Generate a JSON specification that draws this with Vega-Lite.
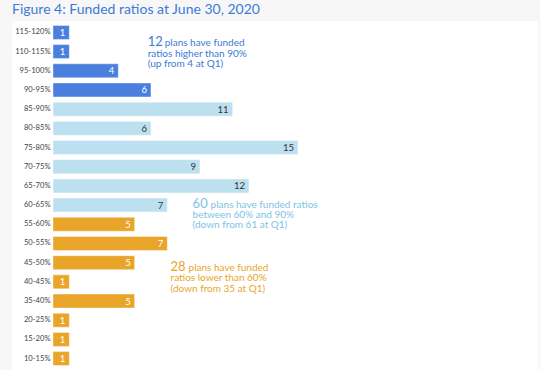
{
  "$schema": "https://vega.github.io/schema/vega-lite/v6.json",
  "autosize": {"type": "none"},
  "width": 526,
  "height": 349,
  "padding": {"left": 12, "top": 21, "right": 2, "bottom": 0},
  "background": "#f7f7f7",
  "view": {"fill": "white", "stroke": null},
  "title": {
    "text": "Figure 4: Funded ratios at June 30, 2020",
    "anchor": "start",
    "orient": "top",
    "offset": 4,
    "font": "Lato",
    "fontSize": 14,
    "fontWeight": "normal",
    "color": "#3d7ad6"
  },
  "config": {"font": "Lato"},
  "datasets": {
    "bars": [
      {"ratio": "115-120%", "plans": 1, "group": "above 90%"},
      {"ratio": "110-115%", "plans": 1, "group": "above 90%"},
      {"ratio": "95-100%", "plans": 4, "group": "above 90%"},
      {"ratio": "90-95%", "plans": 6, "group": "above 90%"},
      {"ratio": "85-90%", "plans": 11, "group": "60-90%"},
      {"ratio": "80-85%", "plans": 6, "group": "60-90%"},
      {"ratio": "75-80%", "plans": 15, "group": "60-90%"},
      {"ratio": "70-75%", "plans": 9, "group": "60-90%"},
      {"ratio": "65-70%", "plans": 12, "group": "60-90%"},
      {"ratio": "60-65%", "plans": 7, "group": "60-90%"},
      {"ratio": "55-60%", "plans": 5, "group": "below 60%"},
      {"ratio": "50-55%", "plans": 7, "group": "below 60%"},
      {"ratio": "45-50%", "plans": 5, "group": "below 60%"},
      {"ratio": "40-45%", "plans": 1, "group": "below 60%"},
      {"ratio": "35-40%", "plans": 5, "group": "below 60%"},
      {"ratio": "20-25%", "plans": 1, "group": "below 60%"},
      {"ratio": "15-20%", "plans": 1, "group": "below 60%"},
      {"ratio": "10-15%", "plans": 1, "group": "below 60%"}
    ],
    "notes": [
      {"id": "a", "ratio": "110-115%", "plans": 5.8, "num": "12", "first": "plans have funded", "rest": ["ratios higher than 90%", "(up from 4 at Q1)"]},
      {"id": "b", "ratio": "60-65%", "plans": 8.55, "num": "60", "first": "plans have funded ratios", "rest": ["between 60% and 90%", "(down from 61 at Q1)"]},
      {"id": "c", "ratio": "45-50%", "plans": 7.2, "num": "28", "first": "plans have funded", "rest": ["ratios lower than 60%", "(down from 35 at Q1)"]}
    ]
  },
  "encoding": {
    "y": {
      "field": "ratio",
      "type": "nominal",
      "sort": null,
      "scale": {
        "domain": ["115-120%", "110-115%", "95-100%", "90-95%", "85-90%", "80-85%", "75-80%", "70-75%", "65-70%", "60-65%", "55-60%", "50-55%", "45-50%", "40-45%", "35-40%", "20-25%", "15-20%", "10-15%"],
        "paddingInner": 0.27,
        "paddingOuter": 0.23
      },
      "axis": {
        "title": null,
        "ticks": false,
        "domain": false,
        "labelPadding": -38,
        "labelFontSize": 7.6,
        "labelColor": "#444444",
        "labelFont": "Lato"
      }
    },
    "x": {
      "field": "plans",
      "type": "quantitative",
      "scale": {"domain": [-2.51, 29.7], "nice": false, "zero": false},
      "axis": null
    }
  },
  "layer": [
    {
      "data": {"name": "bars"},
      "mark": {"type": "bar", "stroke": "white", "strokeWidth": 0.6, "strokeOpacity": 0.7},
      "encoding": {
        "x2": {"datum": 0},
        "color": {
          "field": "group",
          "type": "nominal",
          "scale": {"domain": ["above 90%", "60-90%", "below 60%"], "range": ["#4a7fdd", "#bde0f0", "#e9a52a"]},
          "legend": null
        }
      }
    },
    {
      "data": {"name": "bars"},
      "mark": {"type": "text", "align": "right", "baseline": "middle", "dx": -4, "dy": 0.5, "fontSize": 9.5, "font": "Lato"},
      "encoding": {
        "text": {"field": "plans", "type": "quantitative"},
        "color": {
          "condition": {"test": "datum.group === '60-90%'", "value": "#333333"},
          "value": "#ffffff"
        }
      }
    },
    {
      "data": {"name": "notes"},
      "transform": [{"filter": "datum.id === 'a'"}],
      "layer": [
        {"mark": {"type": "text", "align": "left", "baseline": "alphabetic", "dy": -5.5, "fontSize": 13, "color": "#3d7ad6"}, "encoding": {"text": {"field": "num"}}},
        {"mark": {"type": "text", "align": "left", "baseline": "alphabetic", "dy": -5.5, "dx": 17, "fontSize": 10, "color": "#3d7ad6"}, "encoding": {"text": {"field": "first"}}},
        {"mark": {"type": "text", "align": "left", "baseline": "alphabetic", "dy": 5, "fontSize": 10, "lineHeight": 10.4, "color": "#3d7ad6"}, "encoding": {"text": {"field": "rest"}}}
      ]
    },
    {
      "data": {"name": "notes"},
      "transform": [{"filter": "datum.id === 'b'"}],
      "layer": [
        {"mark": {"type": "text", "align": "left", "baseline": "alphabetic", "dy": 2.5, "fontSize": 13, "color": "#7ec3e6"}, "encoding": {"text": {"field": "num"}}},
        {"mark": {"type": "text", "align": "left", "baseline": "alphabetic", "dy": 2.5, "dx": 18, "fontSize": 10, "color": "#7ec3e6"}, "encoding": {"text": {"field": "first"}}},
        {"mark": {"type": "text", "align": "left", "baseline": "alphabetic", "dy": 13, "fontSize": 10, "lineHeight": 10.4, "color": "#7ec3e6"}, "encoding": {"text": {"field": "rest"}}}
      ]
    },
    {
      "data": {"name": "notes"},
      "transform": [{"filter": "datum.id === 'c'"}],
      "layer": [
        {"mark": {"type": "text", "align": "left", "baseline": "alphabetic", "dy": 8, "fontSize": 13, "color": "#e9a52a"}, "encoding": {"text": {"field": "num"}}},
        {"mark": {"type": "text", "align": "left", "baseline": "alphabetic", "dy": 8, "dx": 18, "fontSize": 10, "color": "#e9a52a"}, "encoding": {"text": {"field": "first"}}},
        {"mark": {"type": "text", "align": "left", "baseline": "alphabetic", "dy": 18.5, "fontSize": 10, "lineHeight": 10.4, "color": "#e9a52a"}, "encoding": {"text": {"field": "rest"}}}
      ]
    }
  ]
}
